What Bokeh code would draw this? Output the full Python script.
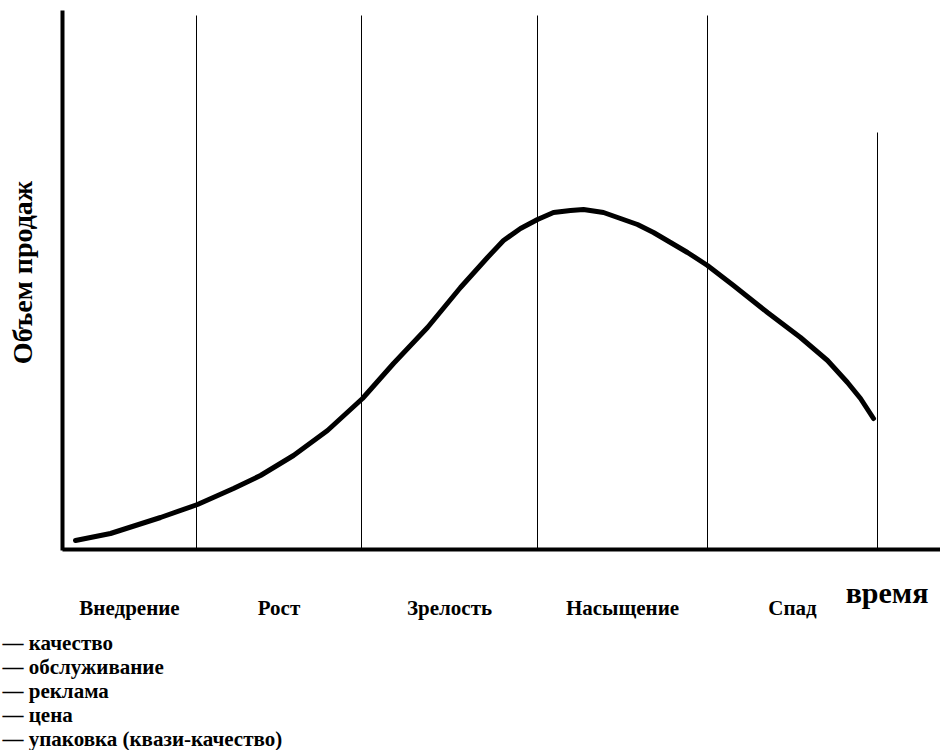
import math
from bokeh.plotting import figure
from bokeh.models import Range1d, ColumnDataSource
from bokeh.core.properties import value
from bokeh.embed import file_html
from bokeh.resources import INLINE

# ---- data (time / volume in drawing units) ----
stages = ["Внедрение", "Рост", "Зрелость", "Насыщение", "Спад"]
stage_bounds = [0, 134, 299, 475, 645, 815]
boundary_tops = [534, 534, 534, 534, 417]

time = [13, 48, 98, 135, 171, 198, 231, 265, 300, 331, 365, 398,
        425, 441, 458, 475, 491, 508, 521, 541, 558, 575, 591, 608, 625,
        645, 671, 705, 738, 765, 785, 798, 811]
volume = [9, 16, 32, 45, 61, 74, 94, 119, 151, 186, 222, 262,
          292, 309, 321, 330, 337, 339, 340, 337, 331, 325, 317, 307, 297,
          284, 264, 237, 212, 189, 167, 151, 131]

y_axis_top = 539
x_axis_end = 878

y_title = "Объем продаж"
x_title = "время"
factors = ["— качество", "— обслуживание", "— реклама", "— цена",
           "— упаковка (квази-качество)"]

FONT = value("Liberation Serif")

W, H = 940, 750
p = figure(width=W, height=H, output_backend="svg", toolbar_location=None,
           x_range=Range1d(-62, -62 + W), y_range=Range1d(549 - H, 549),
           min_border=0)
p.axis.visible = False
p.grid.visible = False
p.outline_line_color = None
p.background_fill_color = "white"
p.border_fill_color = "white"

# axes drawn as thick lines
p.segment(x0=[0, 0], y0=[-1, 0], x1=[0, x_axis_end], y1=[y_axis_top, 0],
          line_color="black", line_width=4)

# stage boundaries
bx = stage_bounds[1:]
p.segment(x0=bx, y0=[0] * len(bx), x1=bx, y1=boundary_tops,
          line_color="black", line_width=1)

# sales curve
p.line(time, volume, line_color="black", line_width=5,
       line_join="round", line_cap="round")

# stage labels centred in each stage
mids = [(stage_bounds[i] + stage_bounds[i + 1]) / 2 for i in range(len(stages))]
src = ColumnDataSource(dict(x=mids, y=[-58] * len(stages), t=stages))
p.text(x="x", y="y", text="t", source=src, text_font=FONT,
       text_font_style="bold", text_font_size="21px", text_align="center",
       text_baseline="alphabetic", text_color="black")

# x title
p.text(x=[866], y=[-43], text=[x_title], text_font=FONT,
       text_font_style="bold", text_font_size="30px", text_align="right",
       text_baseline="alphabetic", text_color="black")

# y title (rotated)
p.text(x=[-40], y=[277], text=[y_title], text_font=FONT,
       text_font_style="bold", text_font_size="28px", text_align="center",
       text_baseline="middle", angle=math.pi / 2, text_color="black")

# factor list below
fy = [-93 - 24 * i for i in range(len(factors))]
p.text(x=[-60] * len(factors), y=fy, text=factors, text_font=FONT,
       text_font_style="bold", text_font_size="21px", text_align="left",
       text_baseline="alphabetic", text_color="black")

open("out.html", "w").write(file_html(p, INLINE))
